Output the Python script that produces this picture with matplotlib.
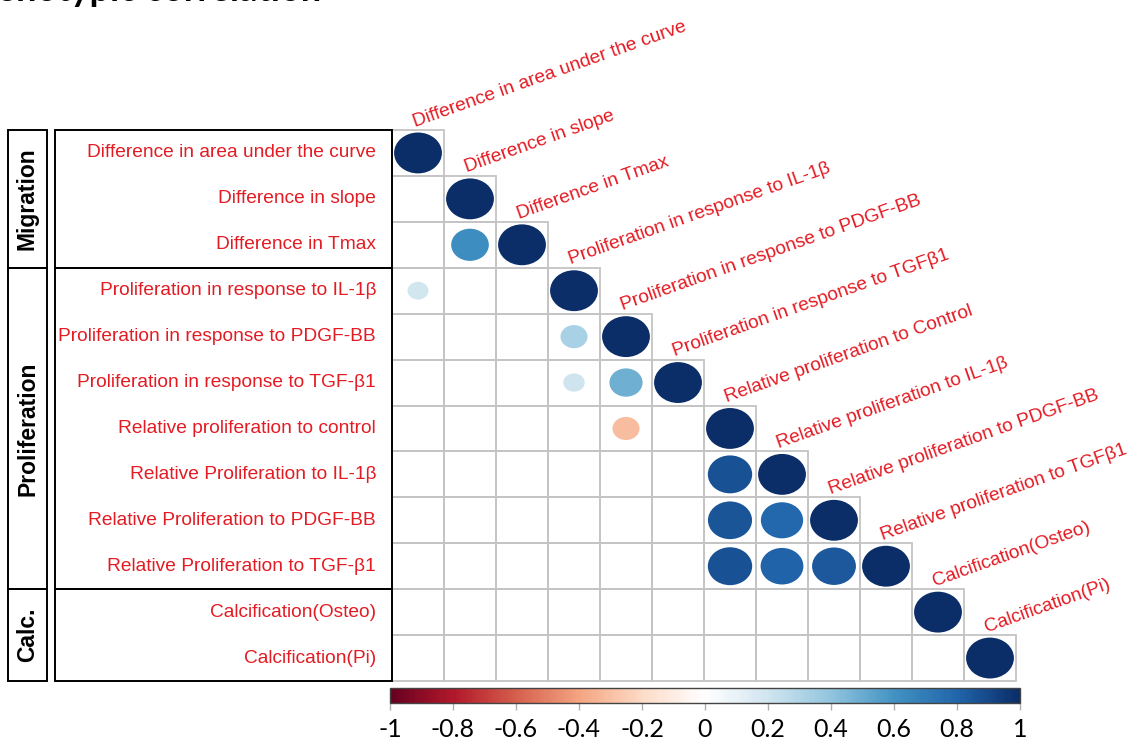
import numpy as np
import matplotlib
matplotlib.use("Agg")
import matplotlib.pyplot as plt
from matplotlib.patches import Ellipse, Rectangle
from matplotlib.colors import LinearSegmentedColormap, Normalize
from matplotlib.cm import ScalarMappable

W, H = 1133, 741

row_labels = [
    "Difference in area under the curve",
    "Difference in slope",
    "Difference in Tmax",
    "Proliferation in response to IL-1β",
    "Proliferation in response to PDGF-BB",
    "Proliferation in response to TGF-β1",
    "Relative proliferation to control",
    "Relative Proliferation to IL-1β",
    "Relative Proliferation to PDGF-BB",
    "Relative Proliferation to TGF-β1",
    "Calcification(Osteo)",
    "Calcification(Pi)",
]
col_labels = [
    "Difference in area under the curve",
    "Difference in slope",
    "Difference in Tmax",
    "Proliferation in response to IL-1β",
    "Proliferation in response to PDGF-BB",
    "Proliferation in response to TGFβ1",
    "Relative proliferation to Control",
    "Relative proliferation to IL-1β",
    "Relative proliferation to PDGF-BB",
    "Relative proliferation to TGFβ1",
    "Calcification(Osteo)",
    "Calcification(Pi)",
]
group_names = ["Migration", "Proliferation", "Calc."]
group_sizes = [3, 7, 2]

# significant correlations in the lower triangle (row, column, coefficient)
corr_rows = [0, 1, 2, 2, 3, 3, 4, 4, 5, 5, 5, 6, 6, 7, 7, 8, 8, 8, 9, 9, 9, 9, 10, 11]
corr_cols = [0, 1, 1, 2, 0, 3, 3, 4, 3, 4, 5, 4, 6, 6, 7, 6, 7, 8, 6, 7, 8, 9, 10, 11]
corr_vals = [1.0, 1.0, 0.62, 1.0, 0.19, 1.0, 0.32, 1.0, 0.20, 0.48, 1.0, -0.32, 1.0,
             0.86, 1.0, 0.85, 0.78, 1.0, 0.86, 0.80, 0.84, 1.0, 1.0, 1.0]

cbar_ticks = [-1, -0.8, -0.6, -0.4, -0.2, 0, 0.2, 0.4, 0.6, 0.8, 1]

rdbu = ["#67001F", "#B2182B", "#D6604D", "#F4A582", "#FDDBC7", "#FFFFFF",
        "#D1E5F0", "#92C5DE", "#4393C3", "#2166AC", "#0B2D68"]
cmap = LinearSegmentedColormap.from_list("col2_rdbu", rdbu, N=200)
norm = Normalize(-1, 1)

label_red = "#e31b23"
grid_gray = "#c4c4c4"
n = len(row_labels)

fig = plt.figure(figsize=(W / 100, H / 100), dpi=100)
fig.patch.set_facecolor("white")


def px_axes(x0, y0, x1, y1, **kw):
    return fig.add_axes([x0 / W, 1 - y1 / H, (x1 - x0) / W, (y1 - y0) / H], **kw)


# correlation matrix
ax = px_axes(392, 130, 1016, 681)
ax.set_xlim(-0.5, n - 0.5)
ax.set_ylim(n - 0.5, -0.5)
ax.axis("off")

for i in range(n):
    for j in range(i + 1):
        ax.add_patch(Rectangle((j - 0.5, i - 0.5), 1, 1, facecolor="none",
                               edgecolor=grid_gray, lw=1.3, zorder=1, clip_on=False))

for r, c, v in zip(corr_rows, corr_cols, corr_vals):
    s = np.sqrt(abs(v))
    ax.add_patch(Ellipse((c, r), 0.92 * s, 0.89 * s, facecolor=cmap(norm(v)),
                         edgecolor="none", zorder=2, clip_on=False))

label_font = ["Liberation Sans", "DejaVu Sans"]
for j, lab in enumerate(col_labels):
    ax.text(j - 0.06, j - 0.57, lab, rotation=19.5, rotation_mode="anchor",
            ha="left", va="baseline", color=label_red, fontsize=13.8,
            family=label_font, clip_on=False)

# row labels panel
lab_ax = px_axes(55, 130, 392, 681)
lab_ax.set_xlim(0, 1)
lab_ax.set_ylim(n - 0.5, -0.5)
lab_ax.axis("off")
for i, lab in enumerate(row_labels):
    lab_ax.text(1 - 16 / 337, i, lab, ha="right", va="center", color=label_red,
                fontsize=13.8, family=label_font)

grp_ax = px_axes(8, 130, 47, 681)
grp_ax.set_xlim(0, 1)
grp_ax.set_ylim(n - 0.5, -0.5)
grp_ax.axis("off")

start = 0
for name, size in zip(group_names, group_sizes):
    top = start - 0.5
    for a in (lab_ax, grp_ax):
        a.add_patch(Rectangle((0, top), 1, size, facecolor="none", edgecolor="black",
                              lw=1.4, clip_on=False))
    grp_ax.text(0.5, top + size / 2, name, rotation=90, ha="center", va="center",
                fontsize=16.5, fontweight="bold", family=label_font, color="black")
    start += size

# colour legend
cax = px_axes(390, 688, 1020, 703)
sm = ScalarMappable(norm=norm, cmap=cmap)
cb = fig.colorbar(sm, cax=cax, orientation="horizontal", ticks=cbar_ticks)
cb.outline.set_edgecolor("#444444")
cb.outline.set_linewidth(1.0)
cb.ax.set_xticklabels([f"{t:g}" for t in cbar_ticks])
cb.ax.tick_params(length=5, color="#b0b0b0", width=1, labelsize=18, pad=6)
for t in cb.ax.get_xticklabels():
    t.set_family(["Lato", "DejaVu Sans"])

# heading sits partly above the top edge of the figure
fig.text(-46 / W, 1 - 1 / H, "Phenotypic correlation", fontsize=26, fontweight="bold",
         family=["Lato", "DejaVu Sans"], ha="left", va="baseline", color="black")

fig.savefig("out.png", dpi=100, facecolor="white")
